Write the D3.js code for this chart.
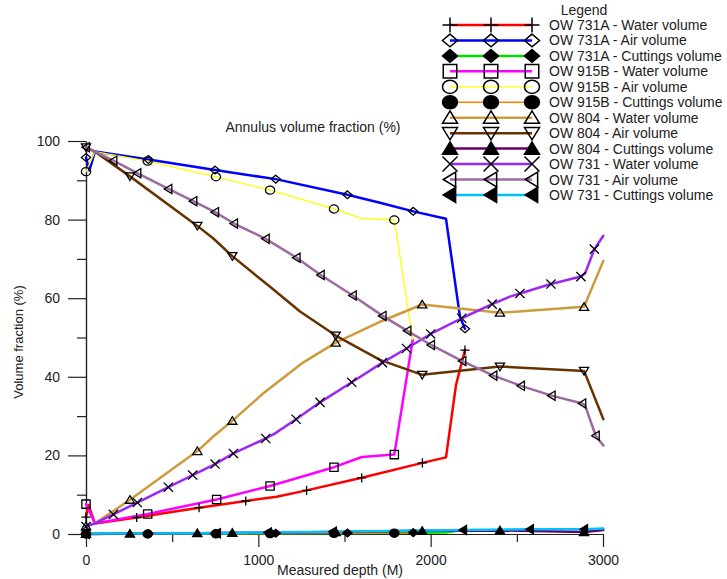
<!DOCTYPE html>
<html><head><meta charset="utf-8">
<script src="https://cdn.jsdelivr.net/npm/d3@7"></script>
<style>html,body{margin:0;padding:0;background:#fff;} svg{display:block;}</style>
</head><body><svg id="chart" width="727" height="579"></svg>
<script>
// ---------------- DATA ----------------
const xTicks = [0, 1000, 2000, 3000];
const xMinorTicks = [500, 1500, 2500];
const yTicks = [0, 20, 40, 60, 80, 100];
const yMinorTicks = [10, 30, 50, 70, 90];

const seriesNames = [
  "OW 731A - Water volume", "OW 731A - Air volume", "OW 731A - Cuttings volume",
  "OW 915B - Water volume", "OW 915B - Air volume", "OW 915B - Cuttings volume",
  "OW 804 - Water volume", "OW 804 - Air volume", "OW 804 - Cuttings volume",
  "OW 731 - Water volume", "OW 731 - Air volume", "OW 731 - Cuttings volume"
];

// [depth (m), volume fraction (%)] : marked points (symbols) and extra line vertices
const ow731aWaterMarks = [[0,4.3],[294,4.2],[656,6.7],[927,8.4],[1280,11.1],[1600,14.3],[1952,18.1],[2199,46.8]];
const ow731aWaterLine  = [[14,7.4],[52,2.7],[1106,9.5],[2089,19.5],[2147,37.9]];
const ow731aAirMarks   = [[0,95.8],[362,95.3],[749,92.6],[1101,90.3],[1517,86.3],[1899,82.1],[2199,52.2]];
const ow731aAirLine    = [[20,92.5],[52,97.3],[1706,84.3],[2089,80.2],[2170,55.3]];
const ow731aCutMarks   = [[0,0],[362,0.1],[749,0.15],[1101,0.2],[1517,0.25],[1899,0.35]];
const ow731aCutLine    = [[2089,0.4],[2199,1.2]];

const ow915bWaterMarks = [[0,7.6],[358,5.1],[758,8.8],[1068,12.2],[1439,17.0],[1789,20.2]];
const ow915bWaterLine  = [[52,2.7],[1600,19.6],[1896,49.5]];
const ow915bAirMarks   = [[0,92.2],[358,94.9],[754,90.9],[1068,87.5],[1439,82.7],[1789,79.9]];
const ow915bAirLine    = [[52,97.3],[1600,80.3],[1896,49.5]];
const ow915bCutMarks   = [[0,0],[358,0],[754,0.05],[1068,0.1],[1439,0.15],[1789,0.2]];
const ow915bCutLine    = [[1896,0.3]];

const ow804WaterMarks  = [[0,2.0],[255,8.7],[646,21.1],[849,28.8],[1449,48.7],[1951,58.4],[2402,56.3],[2890,57.8]];
const ow804WaterLine   = [[52,2.7],[739,24.8],[1029,35.8],[1252,43.4],[1706,54.0],[3002,69.5]];
const ow804AirMarks    = [[0,98.4],[255,91.0],[646,78.4],[849,70.7],[1449,50.5],[1951,40.5],[2402,42.6],[2890,41.5]];
const ow804AirLine     = [[52,97.3],[739,75.2],[1068,62.9],[1242,56.6],[1706,44.3],[3002,29.2]];
const ow804CutMarks    = [[0,0],[255,0.1],[646,0.2],[849,0.3],[1449,0.5],[1951,0.8],[2402,0.9],[2890,0.5]];
const ow804CutLine     = [[3002,1.0]];

const ow731WaterMarks  = [[0,1.9],[159,5.0],[298,8.0],[478,11.9],[619,15.0],[749,17.8],[855,20.5],[1043,24.3],[1219,29.2],[1358,33.5],[1542,38.6],[1720,43.6],[1860,47.2],[2000,50.9],[2180,54.9],[2357,58.5],[2518,61.2],[2698,63.6],[2872,65.5],[2950,72.5]];
const ow731WaterLine   = [[52,2.7],[1097,25.6],[2460,60.4],[2895,66.2],[3002,75.9]];
const ow731AirMarks    = [[0,98.4],[159,95.0],[298,91.8],[478,87.8],[623,84.7],[749,81.9],[859,79.0],[1043,75.1],[1222,70.3],[1362,65.9],[1548,60.7],[1721,55.5],[1865,51.7],[2002,48.1],[2184,44.0],[2364,40.3],[2524,37.7],[2702,35.2],[2880,33.2],[2958,25.0]];
const ow731AirLine     = [[52,97.3],[2895,32.8],[3002,22.5]];
const ow731CutMarks    = [[0,0],[760,0.2],[1056,0.4],[1433,0.6],[2188,1.0],[2576,1.2],[2890,1.2]];
const ow731CutLine     = [[52,0.1],[3002,1.4]];

const seriesMarks = [ow731aWaterMarks, ow731aAirMarks, ow731aCutMarks, ow915bWaterMarks, ow915bAirMarks, ow915bCutMarks,
  ow804WaterMarks, ow804AirMarks, ow804CutMarks, ow731WaterMarks, ow731AirMarks, ow731CutMarks];
const seriesLines = [ow731aWaterLine, ow731aAirLine, ow731aCutLine, ow915bWaterLine, ow915bAirLine, ow915bCutLine,
  ow804WaterLine, ow804AirLine, ow804CutLine, ow731WaterLine, ow731AirLine, ow731CutLine];

// ---------------- STYLE ----------------
const seriesColors = ["#ff0000","#0000ff","#00e000","#ff00ff","#ffff00","#ff8000",
  "#cd9b3c","#663300","#660066","#9a27f5","#9b6b9e","#00c0ff"];
const seriesWidths = [2.5,2.5,2.5,2.5,1.3,1.3,2.5,2.5,2.5,2.5,2.5,2.5];
const seriesSymbols = ["plus","diamond","diamondF","square","circle","circleF","triUp","triDown","triUpF","cross","triLeft","triLeftF"];

const W = 727, H = 579;
const FONT = "'Liberation Sans', Arial, Helvetica, sans-serif";
const svg = d3.select("#chart");
svg.append("rect").attr("width", W).attr("height", H).attr("fill", "#fff");

const x = d3.scaleLinear().domain([0, 3000]).range([86, 603]);
const y = d3.scaleLinear().domain([0, 100]).range([534, 141]);

function symbolPath(type, s) {
  const t = type.replace(/F$/, "");
  switch (t) {
    case "plus": return `M${-s},0H${s}M0,${-s}V${s}`;
    case "cross": return `M${-s},${-s}L${s},${s}M${s},${-s}L${-s},${s}`;
    case "diamond": return `M0,${-s*0.85}L${s},0L0,${s*0.85}L${-s},0Z`;
    case "square": return `M${-s*0.9},${-s*0.9}H${s*0.9}V${s*0.9}H${-s*0.9}Z`;
    case "circle": return `M${s},0A${s},${s*0.88} 0 1,1 ${-s},0A${s},${s*0.88} 0 1,1 ${s},0Z`;
    case "triUp": return `M0,${-s*0.9}L${s},${s*0.75}L${-s},${s*0.75}Z`;
    case "triDown": return `M0,${s*0.9}L${s},${-s*0.75}L${-s},${-s*0.75}Z`;
    case "triLeft": return `M${-s*0.9},0L${s*0.75},${-s}L${s*0.75},${s}Z`;
  }
}
function isFilled(type) { return /F$/.test(type); }

// ---------------- AXES ----------------
const axisColor = "#222";
const gy = svg.append("g").attr("transform", "translate(86,0)")
  .call(d3.axisLeft(y).tickValues(yTicks).tickSize(18).tickSizeOuter(0).tickPadding(8).tickFormat(d3.format("d")));
const gyMinor = svg.append("g").attr("transform", "translate(86,0)")
  .call(d3.axisLeft(y).tickValues(yMinorTicks).tickSize(9).tickSizeOuter(0).tickFormat(""));
const gx = svg.append("g").attr("transform", "translate(0,534)")
  .call(d3.axisBottom(x).tickValues(xTicks).tickSize(13).tickSizeOuter(0).tickPadding(8).tickFormat(d3.format("d")));
const gxMinor = svg.append("g").attr("transform", "translate(0,534)")
  .call(d3.axisBottom(x).tickValues(xMinorTicks).tickSize(8).tickSizeOuter(0).tickFormat(""));
[gy, gyMinor, gx, gxMinor].forEach(g => {
  g.selectAll("path.domain").attr("stroke", axisColor).attr("stroke-width", 1.2);
  g.selectAll(".tick line").attr("stroke", axisColor).attr("stroke-width", 1.2);
  g.selectAll(".tick text").attr("fill", "#222").style("font-family", FONT).style("font-size", "14px");
});

// ---------------- SERIES ----------------
const lineGen = d3.line().x(d => x(d[0])).y(d => y(d[1]));
const linesG = svg.append("g");
const marksG = svg.append("g");
seriesNames.forEach((name, i) => {
  const pts = seriesMarks[i].concat(seriesLines[i]).sort((a, b) => a[0] - b[0]);
  linesG.append("path").attr("d", lineGen(pts)).attr("fill", "none")
    .attr("stroke", seriesColors[i]).attr("stroke-width", seriesWidths[i])
    .attr("stroke-linejoin", "round").attr("stroke-linecap", "round");
});
seriesNames.forEach((name, i) => {
  const sym = seriesSymbols[i];
  marksG.selectAll(null).data(seriesMarks[i]).enter().append("path")
    .attr("transform", d => `translate(${x(d[0])},${y(d[1])})`)
    .attr("d", symbolPath(sym, 4.6))
    .attr("fill", isFilled(sym) ? "#000" : "none")
    .attr("stroke", "#000").attr("stroke-width", 1.3);
});

// ---------------- TEXT ----------------
svg.append("text").attr("x", 313).attr("y", 132).attr("text-anchor", "middle")
  .style("font-family", FONT).style("font-size", "14px").attr("fill", "#222")
  .text("Annulus volume fraction (%)");
svg.append("text").attr("transform", "translate(23,342) rotate(-90)").attr("text-anchor", "middle")
  .style("font-family", FONT).style("font-size", "13px").attr("fill", "#222")
  .text("Volume fraction (%)");
svg.append("text").attr("x", 340).attr("y", 575).attr("text-anchor", "middle")
  .style("font-family", FONT).style("font-size", "14px").attr("fill", "#222")
  .text("Measured depth (M)");

// ---------------- LEGEND ----------------
const lg = svg.append("g");
lg.append("text").attr("x", 584).attr("y", 14.5).attr("text-anchor", "middle")
  .style("font-family", FONT).style("font-size", "14px").attr("fill", "#222").text("Legend");
const legendSymX = [450, 491, 532];
seriesNames.forEach((name, i) => {
  const cy = 25 + i * 15.45;
  lg.append("line").attr("x1", legendSymX[0]).attr("x2", legendSymX[2]).attr("y1", cy).attr("y2", cy)
    .attr("stroke", seriesColors[i]).attr("stroke-width", seriesWidths[i]);
  legendSymX.forEach(sx => {
    lg.append("path").attr("transform", `translate(${sx},${cy})`)
      .attr("d", symbolPath(seriesSymbols[i], 7.5))
      .attr("fill", isFilled(seriesSymbols[i]) ? "#000" : "none")
      .attr("stroke", "#000").attr("stroke-width", 1.5);
  });
  lg.append("text").attr("x", 549).attr("y", cy).attr("dy", "0.36em")
    .style("font-family", FONT).style("font-size", "14px").attr("fill", "#222").text(name);
});
</script>
</body></html>
